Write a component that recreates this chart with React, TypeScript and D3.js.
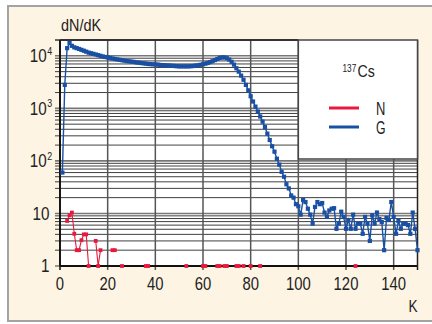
import React from "react";
import * as d3 from "d3";

const W = 432;
const H = 324;

// K = 1..150
const kValues: number[] = d3.range(1, 151);

const gCounts: number[] = [
  60, 2800, 14000, 17500, 15500, 14500, 14000, 13500, 13000, 12500,
  12000, 11500, 11200, 10900, 10600, 10300, 10000, 9700, 9500, 9300,
  9100, 8900, 8700, 8550, 8400, 8250, 8100, 7950, 7850, 7750,
  7650, 7500, 7400, 7300, 7200, 7100, 7000, 6950, 6900, 6850,
  6800, 6700, 6650, 6600, 6550, 6500, 6450, 6400, 6350, 6300,
  6300, 6300, 6300, 6300, 6350, 6400, 6500, 6600, 6750, 6900,
  7100, 7300, 7600, 7900, 8300, 8700, 9100, 9300, 9300, 9000,
  8500, 7700, 6800, 5800, 5000, 4200, 3500, 2800, 2200, 1700,
  1350, 1080, 870, 700, 560, 440, 330, 250, 190, 150,
  110, 85, 62, 50, 36, 30, 22, 20, 15, 13.7,
  9.5, 18, 16.5, 12.3, 9.5, 6.4, 13.3, 16.5, 15, 15.8,
  10.4, 8.6, 11.4, 12.3, 12.6, 5.1, 6.4, 10.8, 8.6, 5.1,
  7.5, 5.1, 9.5, 5.1, 6.4, 6.4, 4.1, 8.6, 6.4, 3.0,
  9.2, 6.4, 10.4, 7.8, 6.9, 2.0, 8.2, 7.5, 16.5, 8.6,
  4.1, 7.2, 5.1, 6.4, 6.4, 6.0, 4.1, 10.4, 5.1, 2.0,
];

// 0 = no count (not drawn on log scale)
const nCounts: number[] = [
  0, 0, 7.2, 9.2, 10.4, 4.1, 2, 2, 3.1, 4,
  4, 1, 0, 0, 3, 1, 2, 0, 0, 0,
  0, 2, 2, 0, 0, 1, 0, 0, 0, 0,
  0, 0, 0, 0, 0, 1, 1, 0, 0, 0,
  0, 0, 0, 0, 0, 0, 0, 0, 0, 0,
  0, 0, 1, 0, 0, 0, 0, 0, 0, 1,
  1, 0, 0, 0, 0, 1, 1, 0, 1, 1,
  0, 0, 0, 1, 1, 0, 1, 0, 0, 1,
  0, 0, 0, 1, 0, 0, 0, 0, 0, 0,
  0, 0, 0, 0, 0, 0, 0, 0, 0, 0,
  0, 0, 0, 0, 0, 0, 0, 0, 0, 0,
  0, 0, 0, 0, 0, 0, 0, 0, 0, 0,
  0, 0, 0, 1, 0, 0, 0, 0, 0, 0,
  0, 0, 0, 0, 0, 0, 0, 0, 0, 0,
  0, 0, 0, 0, 0, 0, 0, 0, 0, 0,
];

const xTicks: number[] = [0, 20, 40, 60, 80, 100, 120, 140];
const yDecades: number[] = [1, 10, 100, 1000, 10000];
const yTickBases: string[] = ["1", "10", "10", "10", "10"];
const yTickExps: string[] = ["", "", "2", "3", "4"];

const FONT = "'Liberation Sans', Arial, sans-serif";
const BLUE = "#1a50a3";
const RED = "#e8193c";
const TXT = "#222";

function T(props: {
  x: number;
  y: number;
  size: number;
  sx?: number;
  anchor?: "start" | "middle" | "end";
  children: React.ReactNode;
}) {
  const { x, y, size, sx = 0.82, anchor = "start", children } = props;
  return (
    <text
      transform={`translate(${x},${y}) scale(${sx},1)`}
      textAnchor={anchor}
      fontSize={size}
      fill={TXT}
    >
      {children}
    </text>
  );
}

export default function App() {
  const left = 60;
  const right = 417.5;
  const top = 40;
  const bottom = 266;

  const x = d3.scaleLinear().domain([0, 150]).range([left, right]);
  const y = d3.scaleLog().domain([1, 20000]).range([bottom, top]);

  const minorLines: number[] = [];
  for (const d of yDecades) {
    for (let m = 1; m <= 9; m++) {
      const v = d * m;
      if (v <= 20000) minorLines.push(v);
    }
  }
  minorLines.push(20000);

  const gData = kValues.map((k, i) => ({ k, v: gCounts[i] }));
  const nData = kValues.map((k, i) => ({ k, v: nCounts[i] }));

  const line = d3
    .line<{ k: number; v: number }>()
    .defined((d) => d.v > 0)
    .x((d) => x(d.k))
    .y((d) => y(d.v));

  const legX = x(100);
  const legY2 = 159;

  return (
    <svg
      width={W}
      height={H}
      style={{ position: "absolute", left: 0, top: 0, display: "block" }}
      fontFamily={FONT}
    >
      <rect x={0} y={0} width={W} height={H} fill="#ffffff" />
      <rect x={8} y={6} width={440} height={315} fill="#fdf4e3" stroke="#a3a3a3" strokeWidth={2} />
      <rect x={left} y={top} width={right - left} height={bottom - top} fill="#ffffff" />

      {/* horizontal grid */}
      {minorLines.map((v, i) => {
        const isDec = yDecades.includes(v);
        return (
          <line
            key={"h" + i}
            x1={left - 5}
            x2={y(v) < legY2 ? legX : right}
            y1={y(v)}
            y2={y(v)}
            stroke={isDec ? "#777" : "#2a2a2a"}
            strokeWidth={isDec ? 1.6 : 0.9}
          />
        );
      })}
      {/* vertical grid */}
      {xTicks.map((t) => (
        <line
          key={"v" + t}
          x1={x(t)}
          x2={x(t)}
          y1={t > 100 ? legY2 : top}
          y2={bottom + 4}
          stroke={t === 0 ? "#111" : "#555"}
          strokeWidth={1.5}
        />
      ))}
      {/* axis frame */}
      <line x1={left} x2={left} y1={top} y2={bottom} stroke="#111" strokeWidth={1.8} />
      <line x1={left} x2={right} y1={bottom} y2={bottom} stroke="#111" strokeWidth={1.8} />
      <line x1={left} x2={legX} y1={top} y2={top} stroke="#222" strokeWidth={1.5} />
      <line x1={right} x2={right} y1={top} y2={bottom + 4} stroke="#222" strokeWidth={1.5} />

      {/* legend box */}
      <rect x={legX} y={top} width={right - legX} height={legY2 - top} fill="#ffffff" stroke="#444" strokeWidth={1.5} />
      <T x={342.5} y={71.5} size={11} sx={0.75}>137</T>
      <T x={357.5} y={77} size={16.5} sx={0.86}>Cs</T>
      <line x1={329} x2={359} y1={108} y2={108} stroke={RED} strokeWidth={3} />
      <T x={376} y={114.5} size={17.5} sx={0.74}>N</T>
      <line x1={329} x2={359} y1={127} y2={127} stroke={BLUE} strokeWidth={3} />
      <T x={376} y={133.5} size={17.5} sx={0.7}>G</T>

      {/* series */}
      <path d={line(nData) || ""} fill="none" stroke={RED} strokeWidth={1.1} />
      {nData.filter((d) => d.v > 0).map((d) => (
        <rect key={"n" + d.k} x={x(d.k) - 1.9} y={y(d.v) - 1.9} width={3.8} height={3.8} fill={RED} />
      ))}
      <path d={line(gData) || ""} fill="none" stroke={BLUE} strokeWidth={1.4} />
      {gData.map((d) => (
        <rect key={"g" + d.k} x={x(d.k) - 2.1} y={y(d.v) - 2.1} width={4.2} height={4.2} fill={BLUE} />
      ))}

      {/* x tick labels */}
      {xTicks.map((t) => (
        <T key={"xt" + t} x={x(t)} y={290} size={17.7} sx={0.84} anchor="middle">
          {t}
        </T>
      ))}
      <T x={413} y={312} size={17} sx={0.8} anchor="middle">K</T>

      {/* y tick labels */}
      {yDecades.map((d, i) => {
        const base = yTickBases[i];
        const exp = yTickExps[i];
        const yy = y(d) + 6.3;
        if (!exp) {
          return (
            <T key={"yt" + d} x={49.5} y={yy} size={17.7} sx={0.86} anchor="end">
              {base}
            </T>
          );
        }
        return (
          <g key={"yt" + d}>
            <T x={46.7} y={yy} size={17.7} sx={0.86} anchor="end">
              {base}
            </T>
            <T x={47.2} y={yy - 7.5} size={11} sx={0.8}>
              {exp}
            </T>
          </g>
        );
      })}
      <T x={61} y={31} size={16} sx={0.9}>dN/dK</T>
    </svg>
  );
}
